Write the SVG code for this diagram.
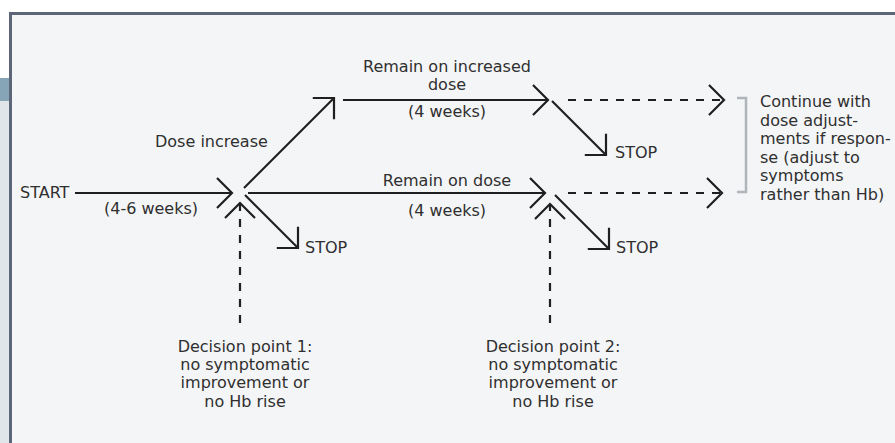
<svg xmlns="http://www.w3.org/2000/svg" width="895" height="443" viewBox="0 0 895 443">
  <defs>
    <marker id="chev" markerUnits="userSpaceOnUse" markerWidth="24" markerHeight="36" refX="18" refY="18" orient="auto" viewBox="0 0 24 36">
      <path d="M3,3 L18,18 L3,33" fill="none" stroke="#1f1f1f" stroke-width="2.2" stroke-linejoin="miter"/>
    </marker>
    <style>
      .ln { fill: none; stroke: #1f1f1f; stroke-width: 2.2; marker-end: url(#chev); }
      .dash { stroke-dasharray: 8 8; }
      .t { font-family: "DejaVu Sans", "Liberation Sans", sans-serif; font-size: 16px; fill: #2f2f2f; }
      .c { text-anchor: middle; }
      .br { fill: none; stroke: #b0b5ba; stroke-width: 2.5; }
    </style>
  </defs>

  <rect x="0" y="0" width="895" height="443" fill="#ffffff"/>
  <rect x="0" y="78" width="11" height="23" fill="#86a6b8"/>
  <rect x="0" y="101" width="11" height="342" fill="#e0e5ea"/>
  <rect x="10.5" y="13.5" width="900" height="450" fill="#f4f5f7" stroke="#5d6679" stroke-width="3"/>

  <g id="connectors">
    <path class="ln" d="M75,193 H232"/>
    <path class="ln" d="M244,188 L334,98"/>
    <path class="ln" d="M343,100 H548"/>
    <path class="ln" d="M248,193 H545"/>
    <path class="ln" d="M245,195 L298,248"/>
    <path class="ln" d="M552,101 L606,155"/>
    <path class="ln" d="M555,195 L609,249"/>
    <path class="ln dash" d="M568,100 H724"/>
    <path class="ln dash" d="M568,193 H722"/>
    <path class="ln dash" d="M240,323 V203"/>
    <path class="ln dash" d="M550,323 V204"/>
  </g>

  <g id="start"><text class="t" x="20" y="198">START</text></g>
  <g id="lbl-46"><text class="t c" x="151" y="214">(4-6 weeks)</text></g>
  <g id="lbl-dose-increase"><text class="t" x="155" y="147">Dose increase</text></g>
  <g id="lbl-remain-increased">
    <text class="t c" x="447" y="72">Remain on increased</text>
    <text class="t c" x="447" y="90">dose</text>
    <text class="t c" x="447" y="117">(4 weeks)</text>
  </g>
  <g id="lbl-remain">
    <text class="t c" x="447" y="186">Remain on dose</text>
    <text class="t c" x="447" y="216">(4 weeks)</text>
  </g>
  <g id="stop1"><text class="t" x="305" y="253">STOP</text></g>
  <g id="stop2"><text class="t" x="615" y="158">STOP</text></g>
  <g id="stop3"><text class="t" x="616" y="253">STOP</text></g>
  <g id="decision1">
    <text class="t c" x="245" y="352">Decision point 1:</text>
    <text class="t c" x="245" y="370">no symptomatic</text>
    <text class="t c" x="245" y="388">improvement or</text>
    <text class="t c" x="245" y="407">no Hb rise</text>
  </g>
  <g id="decision2">
    <text class="t c" x="553" y="352">Decision point 2:</text>
    <text class="t c" x="553" y="370">no symptomatic</text>
    <text class="t c" x="553" y="388">improvement or</text>
    <text class="t c" x="553" y="407">no Hb rise</text>
  </g>
  <g id="continue">
    <path class="br" d="M737,98 H746 V192 H737"/>
    <text class="t" x="760" y="107">Continue with</text>
    <text class="t" x="760" y="126">dose adjust-</text>
    <text class="t" x="760" y="144">ments if respon-</text>
    <text class="t" x="760" y="163">se (adjust to</text>
    <text class="t" x="760" y="181">symptoms</text>
    <text class="t" x="760" y="200">rather than Hb)</text>
  </g>
</svg>
